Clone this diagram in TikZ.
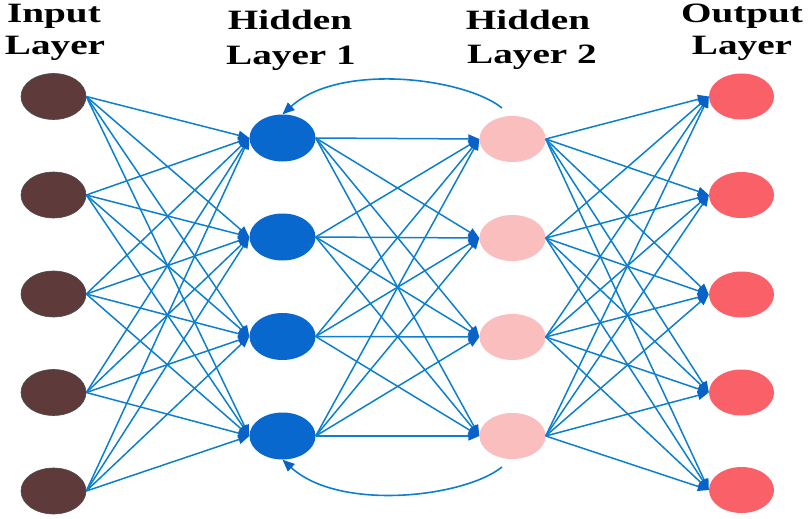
\documentclass[tikz,border=0pt]{standalone}
\usepackage{fontspec}
\newfontfamily\labfont{Liberation Serif}[FakeStretch=1.4]
\usetikzlibrary{shapes.geometric,arrows.meta}
\definecolor{edgeblue}{RGB}{12,128,206}
\definecolor{tipblue}{RGB}{8,98,200}
\definecolor{inbrown}{RGB}{94,58,58}
\definecolor{hidblue}{RGB}{8,104,206}
\definecolor{hidpink}{RGB}{250,190,190}
\definecolor{outred}{RGB}{250,96,104}
\begin{document}
\begin{tikzpicture}[x=1pt,y=-1pt,
  neuron/.style={ellipse,minimum width=65pt,minimum height=46pt,inner sep=0pt},
  inode/.style={neuron,fill=inbrown,draw=black!70,line width=0.6pt},
  aode/.style={neuron,fill=hidblue,minimum width=66pt,minimum height=47pt},
  bode/.style={neuron,fill=hidpink,minimum width=66pt,minimum height=46pt},
  onode/.style={neuron,fill=outred},
  edge/.style={draw=edgeblue,line width=1.5pt,-{Triangle[length=11pt,width=9pt,color=tipblue]}},
  loopedge/.style={draw=edgeblue,line width=1.6pt,-{Triangle[length=12pt,width=10pt,color=tipblue]}},
  lab/.style={font=\labfont\bfseries\fontsize{28}{33}\selectfont,inner sep=0pt,anchor=base}]
\useasboundingbox (0,0) rectangle (809,519);
\fill[white] (0,0) rectangle (809,519);
% labels
\node[lab] (tin1) at (54,23) {Input};
\node[lab] (tin2) at (55,55) {Layer};
\node[lab] (ta1) at (290,30) {Hidden};
\node[lab] (ta2) at (291,65) {Layer 1};
\node[lab] (tb1) at (528,30) {Hidden};
\node[lab] (tb2) at (532,64) {Layer 2};
\node[lab] (to1) at (742,23) {Output};
\node[lab] (to2) at (742,55) {Layer};
% neurons
\foreach \i/\y in {1/96.5,2/195,3/294,4/392.5,5/491}
  \node[inode] (i\i) at (53.5,\y) {};
\foreach \i/\y in {1/138,2/237,3/336.5,4/436}
  \node[aode] (a\i) at (282.5,\y) {};
\foreach \i/\y in {1/139,2/238,3/337,4/436}
  \node[bode] (b\i) at (512.5,\y) {};
\foreach \i/\y in {1/96.5,2/195,3/294.5,4/392.5,5/490}
  \node[onode] (o\i) at (741.5,\y) {};
% connections
\foreach \i in {1,...,5}
  \foreach \j in {1,...,4}
    \draw[edge] (i\i.east) -- (a\j.west);
\foreach \i in {1,...,4}
  \foreach \j in {1,...,4}
    \draw[edge] (a\i.east) -- (b\j.west);
\foreach \i in {1,...,4}
  \foreach \j in {1,...,5}
    \draw[edge] (b\i.east) -- (o\j.west);
% recurrent arcs
\coordinate (ts) at (502,108);
\coordinate (bs) at (502,467);
\draw[loopedge] (ts) .. controls (465,78) and (340,62) .. (a1.north);
\draw[loopedge] (bs) .. controls (465,497) and (340,512) .. (a4.south);
\end{tikzpicture}
\end{document}
